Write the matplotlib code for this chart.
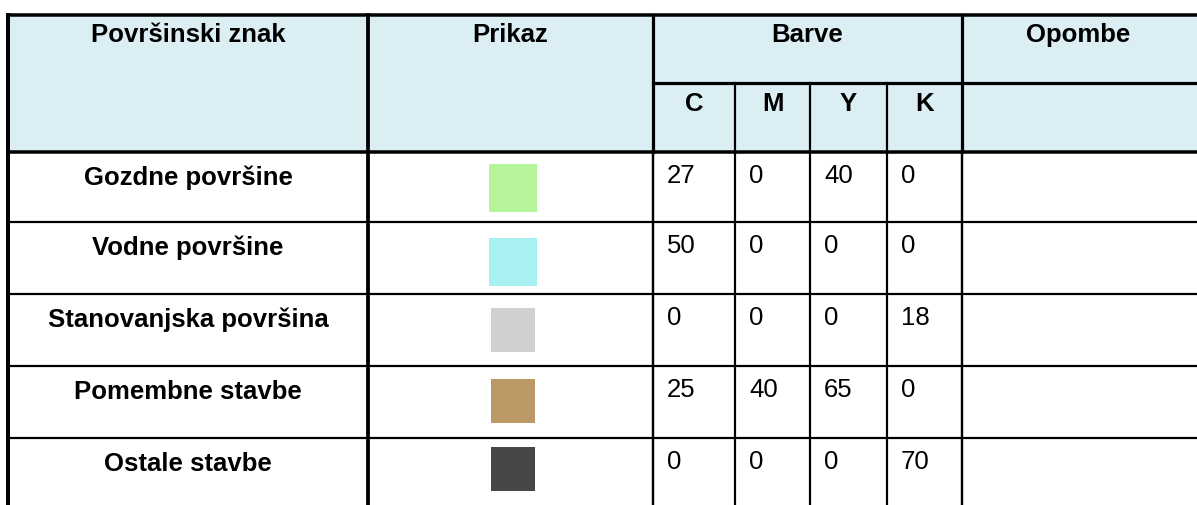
import matplotlib
matplotlib.use("Agg")
import matplotlib.pyplot as plt
from matplotlib.patches import Rectangle

# ---- data ----
header_main = ["Površinski znak", "Prikaz", "Barve", "Opombe"]
cmyk_labels = ["C", "M", "Y", "K"]
categories = ["Gozdne površine", "Vodne površine", "Stanovanjska površina",
              "Pomembne stavbe", "Ostale stavbe"]
c_vals = [27, 50, 0, 25, 0]
m_vals = [0, 0, 0, 40, 0]
y_vals = [40, 0, 0, 65, 0]
k_vals = [0, 0, 18, 0, 70]
swatch_colors = ["#b6f49a", "#a8f1f1", "#d0d0d0", "#bb9966", "#474747"]

# ---- layout (pixels) ----
W, H = 1197, 505
plt.rcParams['font.family'] = ['Liberation Sans', 'DejaVu Sans']
fig = plt.figure(figsize=(W / 100, H / 100), dpi=100)
ax = fig.add_axes([0, 0, 1, 1])
ax.set_xlim(0, W)
ax.set_ylim(H, 0)
ax.axis("off")

xl = 8
col_x = [xl, 368, 653, 735, 810, 887, 962, W + 10]
top = 15
sub = 83
hdr_bot = 152
row_h = [70, 72, 72, 72, 72]
row_tops = [hdr_bot]
for h in row_h:
    row_tops.append(row_tops[-1] + h)
bottom = H + 10

header_fill = "#daeef3"
ax.add_patch(Rectangle((xl, top), col_x[-1] - xl, hdr_bot - top,
                       facecolor=header_fill, edgecolor="none", zorder=0))

FS = 18.5
px = 72 / 100  # px -> pt

def hline(y, x0, x1, w):
    ax.plot([x0, x1], [y, y], color="black", lw=w * px, solid_capstyle="projecting", zorder=3)

def vline(x, y0, y1, w):
    ax.plot([x, x], [y0, y1], color="black", lw=w * px, solid_capstyle="projecting", zorder=3)

# horizontal lines
hline(top, xl, col_x[-1], 3.5)
hline(sub, col_x[2], col_x[-1], 3.2)
hline(hdr_bot, xl, col_x[-1], 3.5)
for yt in row_tops[1:-1] + [row_tops[-1]] if row_tops[-1] < H else row_tops[1:-1]:
    hline(yt, xl, col_x[-1], 2.2)

# vertical lines
vline(xl, top, bottom, 4)
vline(col_x[1], top, bottom, 3.8)
vline(col_x[2], top, hdr_bot, 3.2)
vline(col_x[2], hdr_bot, bottom, 2.4)
for x in col_x[3:6]:
    vline(x, sub, bottom, 2.2)
vline(col_x[6], top, hdr_bot, 3.2)
vline(col_x[6], hdr_bot, bottom, 2.4)

# header text
ax.text((col_x[0] + col_x[1]) / 2, top + 27, header_main[0], ha="center", va="baseline",
        fontsize=FS, fontweight="bold")
ax.text((col_x[1] + col_x[2]) / 2, top + 27, header_main[1], ha="center", va="baseline",
        fontsize=FS, fontweight="bold")
ax.text((col_x[2] + col_x[6]) / 2, top + 27, header_main[2], ha="center", va="baseline",
        fontsize=FS, fontweight="bold")
ax.text((col_x[6] + W) / 2 - 1, top + 27, header_main[3], ha="center", va="baseline",
        fontsize=FS, fontweight="bold")
for i, lab in enumerate(cmyk_labels):
    ax.text((col_x[2 + i] + col_x[3 + i]) / 2, sub + 28, lab, ha="center", va="baseline",
            fontsize=FS, fontweight="bold")

# body
sw_size = [48, 48, 44, 44, 44]
sw_off = [12, 16, 14, 13, 9]
for r, cat in enumerate(categories):
    yt = row_tops[r]
    ax.text((col_x[0] + col_x[1]) / 2, yt + 33, cat, ha="center", va="baseline",
            fontsize=FS, fontweight="bold")
    s = sw_size[r]
    cx = (col_x[1] + col_x[2]) / 2 + 2
    ax.add_patch(Rectangle((cx - s / 2, yt + sw_off[r]), s, s,
                           facecolor=swatch_colors[r], edgecolor="none", zorder=2))
    for j, vals in enumerate([c_vals, m_vals, y_vals, k_vals]):
        ax.text(col_x[2 + j] + 14, yt + 31, str(vals[r]), ha="left", va="baseline",
                fontsize=FS)

fig.savefig("out.png", dpi=100)
